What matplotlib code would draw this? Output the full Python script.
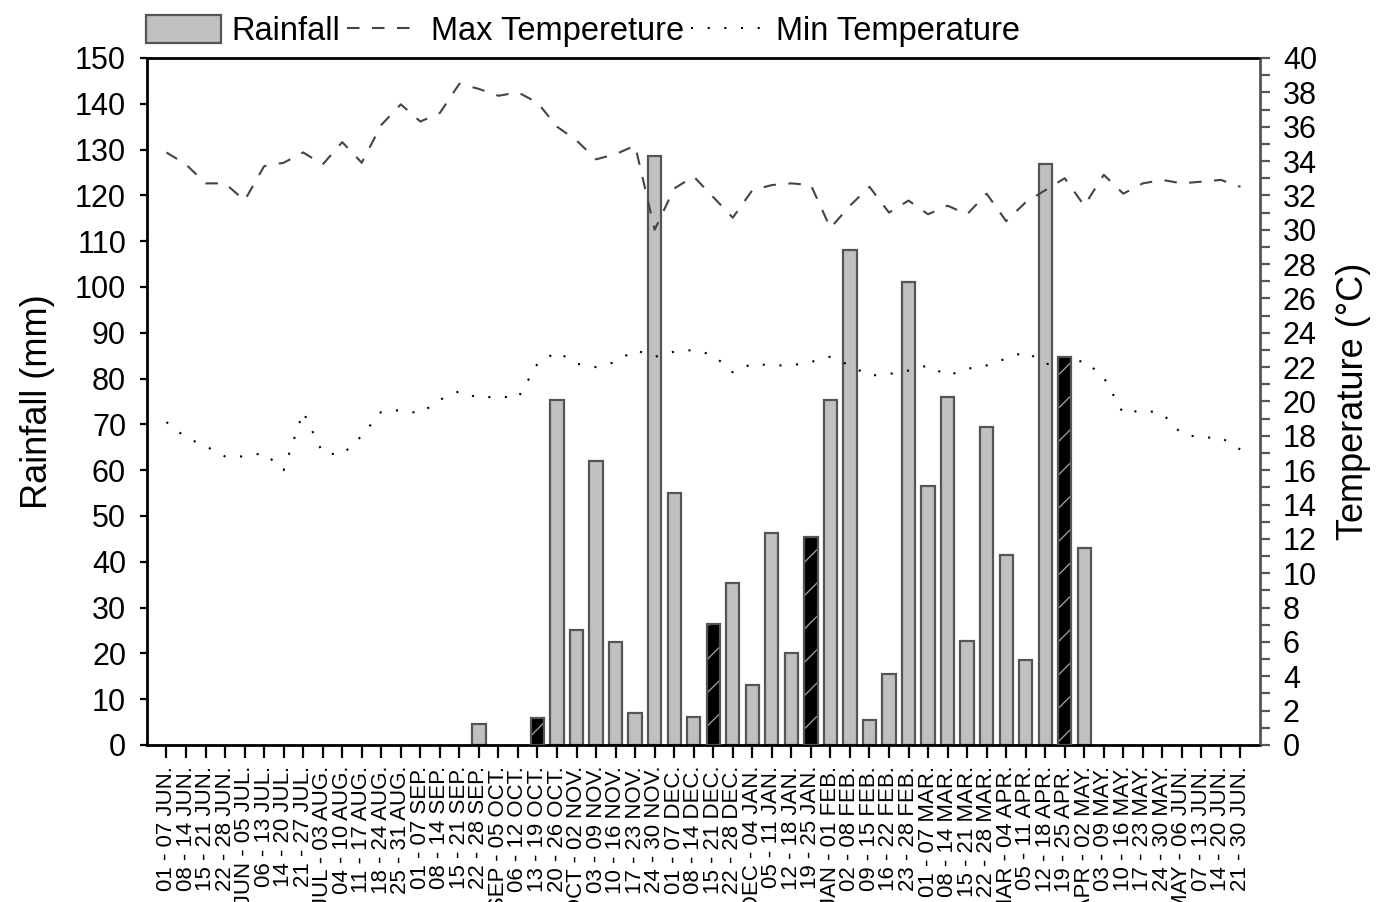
import matplotlib
matplotlib.use("Agg")
from matplotlib import pyplot as plt
from matplotlib.patches import Patch
from matplotlib.lines import Line2D
from matplotlib.ticker import MultipleLocator

plt.rcParams['font.family'] = ['Liberation Sans', 'DejaVu Sans']
plt.rcParams['hatch.linewidth'] = 1.0

# 週ごとの期間ラベル
weeks = [
  "01 - 07 JUN.", "08 - 14 JUN.", "15 - 21 JUN.", "22 - 28 JUN.", "29 JUN - 05 JUL.",
  "06 - 13 JUL.", "14 - 20 JUL.", "21 - 27 JUL.", "28 JUL - 03 AUG.", "04 - 10 AUG.",
  "11 - 17 AUG.", "18 - 24 AUG.", "25 - 31 AUG.", "01 - 07 SEP.", "08 - 14 SEP.",
  "15 - 21 SEP.", "22 - 28 SEP.", "29 SEP - 05 OCT.", "06 - 12 OCT.", "13 - 19 OCT.",
  "20 - 26 OCT.", "27 OCT - 02 NOV.", "03 - 09 NOV.", "10 - 16 NOV.", "17 - 23 NOV.",
  "24 - 30 NOV.", "01 - 07 DEC.", "08 - 14 DEC.", "15 - 21 DEC.", "22 - 28 DEC.",
  "29 DEC - 04 JAN.", "05 - 11 JAN.", "12 - 18 JAN.", "19 - 25 JAN.", "26 JAN - 01 FEB.",
  "02 - 08 FEB.", "09 - 15 FEB.", "16 - 22 FEB.", "23 - 28 FEB.", "01 - 07 MAR.",
  "08 - 14 MAR.", "15 - 21 MAR.", "22 - 28 MAR.", "29 MAR - 04 APR.", "05 - 11 APR.",
  "12 - 18 APR.", "19 - 25 APR.", "26 APR - 02 MAY.", "03 - 09 MAY.", "10 - 16 MAY.",
  "17 - 23 MAY.", "24 - 30 MAY.", "31 MAY - 06 JUN.", "07 - 13 JUN.", "14 - 20 JUN.",
  "21 - 30 JUN.",
]

# 降水量 (mm)
rainfall = [
  0, 0, 0, 0, 0, 0, 0, 0, 0, 0,
  0, 0, 0, 0, 0, 0, 4.5, 0, 0, 5.8,
  75.3, 25.0, 62.0, 22.4, 6.9, 128.5, 55.0, 6.2, 26.4, 35.3,
  13.1, 46.3, 20.1, 45.4, 75.3, 108.0, 5.5, 15.5, 101.0, 56.6,
  76.0, 22.7, 69.4, 41.5, 18.6, 126.8, 84.7, 43.1, 0, 0,
  0, 0, 0, 0, 0, 0,
]

# 黒塗り(ハッチ)の週
highlight = ["13 - 19 OCT.", "15 - 21 DEC.", "19 - 25 JAN.", "19 - 25 APR."]

# 最高気温 (°C)
max_temp = [
  34.5, 33.8, 32.7, 32.7, 31.7, 33.7, 33.9, 34.5, 33.8, 35.1,
  33.9, 36.1, 37.3, 36.3, 36.8, 38.5, 38.2, 37.8, 38.0, 37.4,
  36.0, 35.2, 34.1, 34.4, 34.9, 30.0, 32.4, 33.1, 31.9, 30.7,
  32.3, 32.6, 32.7, 32.6, 30.1, 31.4, 32.5, 31.0, 31.7, 30.9,
  31.4, 30.9, 32.1, 30.5, 31.6, 32.3, 33.0, 31.4, 33.2, 32.1,
  32.7, 32.9, 32.7, 32.8, 32.9, 32.5,
]

# 最低気温 (°C)
min_temp = [
  18.8, 17.9, 17.4, 16.8, 16.8, 17.0, 16.0, 19.4, 17.0, 16.9,
  18.0, 19.4, 19.5, 19.3, 20.1, 20.6, 20.2, 20.3, 20.2, 22.2,
  22.9, 22.2, 22.0, 22.3, 23.0, 22.6, 22.9, 23.0, 22.7, 21.7,
  22.2, 22.1, 22.1, 22.3, 22.6, 22.1, 21.5, 21.6, 21.8, 22.1,
  21.5, 21.9, 22.1, 22.5, 22.9, 22.2, 22.1, 22.4, 21.4, 19.3,
  19.5, 19.3, 18.1, 17.9, 17.9, 17.2,
]

x = list(range(1, len(weeks) + 1))

fig = plt.figure(figsize=(13.76, 9.02), dpi=100)
ax = fig.add_axes([0.1068, 0.1741, 0.8089, 0.7616])

gray_x = [xi for xi, w, r in zip(x, weeks, rainfall) if w not in highlight and r > 0]
gray_r = [r for w, r in zip(weeks, rainfall) if w not in highlight and r > 0]
dark_x = [xi for xi, w in zip(x, weeks) if w in highlight]
dark_r = [r for w, r in zip(weeks, rainfall) if w in highlight]

ax.bar(gray_x, gray_r, width=0.68, color='#c0c0c0', edgecolor='#555555', linewidth=1.6, zorder=2)
ax.bar(dark_x, dark_r, width=0.68, color='black', edgecolor='#9a9a9a', hatch='/', linewidth=0, zorder=2)
ax.bar(dark_x, dark_r, width=0.68, color='none', edgecolor='#555555', linewidth=1.6, zorder=3)

ax.set_xlim(0, 57)
ax.set_ylim(0, 150)
ax.yaxis.set_major_locator(MultipleLocator(10))
ax.set_xticks(x)
ax.set_xticklabels(weeks, rotation=90, fontsize=16, va='top')
ax.tick_params(axis='x', direction='out', length=9, width=1.6, pad=6)
ax.tick_params(axis='y', direction='out', length=5, width=1.6, labelsize=22, pad=10)
ax.set_ylabel("Rainfall (mm)", fontsize=26, labelpad=14)
for s in ['left', 'bottom', 'top']:
  ax.spines[s].set_linewidth(2)

ax2 = ax.twinx()
ax2.plot(x, max_temp, color='#444444', linewidth=1.5, linestyle=(0, (6, 6)))
ax2.plot(x, min_temp, color='black', linewidth=1.5, linestyle=(0, (1, 7)))
ax2.set_ylim(0, 40)
ax2.yaxis.set_major_locator(MultipleLocator(2))
ax2.yaxis.set_minor_locator(MultipleLocator(1))
ax2.tick_params(axis='y', which='both', direction='out', length=7.5, width=1.6,
                color='#555555', labelsize=22, pad=9)
ax2.spines['right'].set_color('#555555')
ax2.spines['right'].set_linewidth(2)
ax2.set_ylabel("Temperature (°C)", fontsize=26, labelpad=14)

handles = [
  Patch(facecolor='#c0c0c0', edgecolor='#555555', linewidth=1.6),
  Line2D([], [], color='#444444', linewidth=1.5, linestyle=(0, (6, 6))),
  Line2D([], [], color='black', linewidth=1.5, linestyle=(0, (1, 7))),
]
fig.legend(handles, ["Rainfall", "Max Tempereture", "Min Temperature"],
           loc='lower left', bbox_to_anchor=(0.104, 0.944), ncol=3, frameon=False,
           fontsize=23.5, handlelength=2.3, handleheight=0.95, handletextpad=0.3,
           columnspacing=0.2, borderpad=0.1, borderaxespad=0)

fig.savefig('out.png', dpi=100)
